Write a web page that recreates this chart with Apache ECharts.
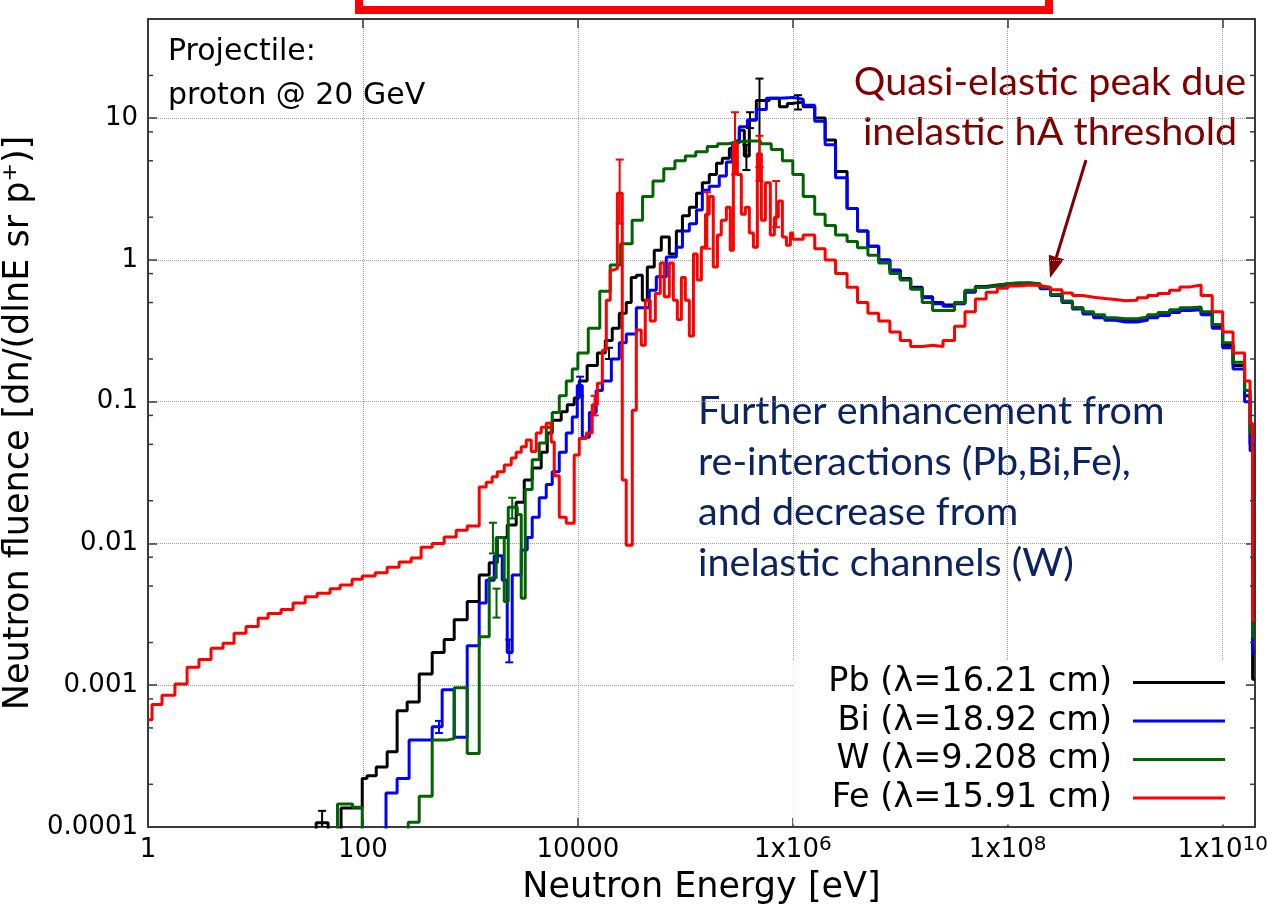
<!DOCTYPE html>
<html><head><meta charset="utf-8">
<script src="https://cdn.jsdelivr.net/npm/echarts@6/dist/echarts.min.js"></script>
<style>html,body{margin:0;padding:0;background:#fff}#c{width:1267px;height:916px}</style>
</head><body><div id="c"></div>
<script>
// ---------------- data ----------------
const xTickExps = [0, 2, 4, 6, 8, 10];
const xTickLabels = ['1', '100', '10000', '1x10^6', '1x10^8', '1x10^10'];
const yTickExps = [-4, -3, -2, -1, 0, 1];
const yTickLabels = ['0.0001', '0.001', '0.01', '0.1', '1', '10'];
const seriesNames = ['Pb (\u03bb=16.21 cm)', 'Bi (\u03bb=18.92 cm)', 'W (\u03bb=9.208 cm)', 'Fe (\u03bb=15.91 cm)'];
const seriesColors = ['#000000', '#0000ff', '#006400', '#ff0000'];

// shared high-energy bin edges (left edges, last entry = upper edge)
const eHigh = [1e6,1.25e6,1.6e6,2e6,2.5e6,3.2e6,4e6,5e6,6.3e6,8e6,
  1e7,1.25e7,1.6e7,2e7,2.5e7,3.2e7,4e7,5e7,6.3e7,8e7,
  1e8,1.25e8,1.6e8,2e8,2.5e8,3.2e8,4e8,5e8,6.3e8,8e8,
  1e9,1.25e9,1.6e9,2e9,2.5e9,3.2e9,4e9,5e9,6.3e9,8e9,
  1e10,1.25e10,1.6e10,1.8e10,1.9e10,2e10];

// Pb
const ePbLow = [36.7,47.4,62.6,98.5,109,133,168,208,258,334,441,570,707,934,1208,1497,1778,2202,2668,3170,
  3760,4560,5190,5776,7000,7960,9250,1.03e4,1.22e4,1.52e4,1.8e4,2.09e4,2.43e4,2.82e4,3.14e4,3.5e4,3.98e4,4.43e4,5.14e4,5.98e4,
  7.1e4,8.25e4,9.4e4,1.09e5,1.27e5,1.44e5,1.67e5,1.95e5,2.21e5,2.57e5,2.99e5,3.18e5,3.54e5,3.94e5,4.58e5,5.21e5,6.05e5,7.5e5,8.9e5];
const vPbLow = [1.07e-4,5e-5,1.36e-4,2.2e-4,2.3e-4,2.65e-4,3.4e-4,6.6e-4,7.6e-4,1.2e-3,1.7e-3,2.1e-3,2.9e-3,3.9e-3,6.0e-3,7.3e-3,0.011,0.0135,0.0195,0.028,
  0.034,0.044,0.060,0.074,0.085,0.095,0.106,0.14,0.18,0.22,0.27,0.33,0.42,0.5,0.75,0.78,0.52,0.89,1.17,1.45,
  1.1,1.6,2.05,2.35,2.95,3.5,4.0,4.8,5.2,6.1,6.9,8.2,5.4,9.7,13.3,13.3,13.8,12,12.7];
const vPbHigh = [13.0,12.0,10.0,7.0,4.2,2.3,1.6,1.25,1.0,0.85,
  0.74,0.64,0.55,0.5,0.48,0.5,0.6,0.65,0.665,0.675,
  0.68,0.685,0.675,0.635,0.57,0.51,0.46,0.425,0.4,0.385,
  0.375,0.375,0.385,0.4,0.415,0.435,0.45,0.455,0.42,0.34,
  0.25,0.18,0.11,0.05,0.0011];

// Bi
const eBiLow = [164,208,269,441,546,707,934,1208,1403,1667,1978,2202,2449,2973,3380,3760,4372,5080,5776,6714,
  7800,8870,9870,1.1e4,1.28e4,1.48e4,1.69e4,2.05e4,2.43e4,2.82e4,3.5e4,4.62e4,5.37e4,6.65e4,8.25e4,9.4e4,1.09e5,1.27e5,1.44e5,1.67e5,
  2.07e5,2.41e5,2.74e5,3.18e5,3.78e5,4.58e5,5.68e5,7.5e5];
const vBiLow = [1.74e-4,2.2e-4,4.1e-4,5.1e-4,9.3e-4,4.3e-4,1.9e-3,3.8e-3,5.5e-3,8.2e-3,5.5e-3,1.7e-3,6.0e-3,9.0e-3,0.011,0.0153,0.021,0.026,0.032,0.044,
  0.060,0.078,0.13,0.056,0.084,0.12,0.14,0.2,0.26,0.3,0.46,0.61,0.76,1.05,1.23,1.6,1.8,2.25,3.1,3.3,
  3.9,4.9,6.7,8.7,9.7,11.5,13.8,14];
const vBiHigh = [13.6,12.3,9.5,6.5,3.8,2.3,1.6,1.25,1.0,0.84,
  0.73,0.63,0.54,0.49,0.47,0.49,0.59,0.64,0.655,0.665,
  0.67,0.675,0.665,0.625,0.56,0.5,0.45,0.415,0.39,0.375,
  0.365,0.365,0.375,0.39,0.405,0.425,0.44,0.445,0.41,0.33,
  0.24,0.17,0.1,0.045,0.0017];

// W
const eWLow = [58,80,98.5,264,334,441,595,707,934,1208,1497,1738,2065,2250,2730,2973,3238,3760,4372,5080,
  5776,6714,7800,8870,1e4,1.25e4,1.6e4,2e4,2.5e4,3.2e4,4e4,5e4,6.3e4,8e4,1e5,1.25e5,1.6e5,2e5,2.5e5,3.2e5,4e5,5e5,6.3e5,8e5];
const vWLow = [1.45e-4,1.38e-4,5e-5,1.08e-4,1.65e-4,4.1e-4,4.2e-4,9.6e-4,3.3e-4,2.2e-3,5.7e-3,0.011,3.9e-3,0.018,0.016,4.1e-3,0.024,0.039,0.051,0.066,
  0.084,0.11,0.14,0.17,0.22,0.33,0.6,0.92,1.3,1.9,2.8,3.6,4.4,5.0,5.4,5.8,6.3,6.6,6.8,6.9,6.9,6.6,6.0,5.0];
const vWHigh = [4.0,2.8,2.1,1.75,1.5,1.35,1.22,1.08,0.95,0.8,
  0.72,0.62,0.5,0.44,0.44,0.5,0.61,0.64,0.66,0.68,
  0.69,0.69,0.68,0.64,0.57,0.51,0.46,0.43,0.41,0.39,
  0.385,0.385,0.395,0.41,0.425,0.445,0.46,0.465,0.43,0.35,
  0.26,0.19,0.12,0.06,0.0022];

// Fe
const eFeLow = [1,1.09,1.35,1.78,2.31,2.98,3.86,4.99,6.32,8.17,10.6,13.1,17.3,22.4,29,37.5,49.5,61.4,79.3,98.5,
  130,168,217,281,348,441,570,738,934,1208,1403,1596,1778,2065,2399,2668,2973,3311,3682,4100,
  4560,5080,5650,6030,6714,7800,9250,1.03e4,1.2e4,1.36e4,1.52e4,1.69e4,1.84e4,2.0e4,2.18e4,2.33e4,2.59e4,2.82e4,3.21e4,3.5e4,
  3.89e4,4.24e4,4.72e4,5.26e4,5.85e4,6.37e4,7.1e4,7.73e4,8.43e4,9.19e4,1e5,1.09e5,1.19e5,1.29e5,1.41e5,1.54e5,1.67e5,1.82e5,1.99e5,2.16e5,
  2.41e5,2.62e5,2.8e5,3.05e5,3.32e5,3.62e5,3.94e5,4.3e5,4.68e5,5.1e5,5.56e5,6.18e5,6.74e5,7.34e5,8.0e5,8.72e5,9.5e5];
const vFeLow = [5.7e-4,7.3e-4,8.5e-4,1.02e-3,1.34e-3,1.52e-3,1.82e-3,1.98e-3,2.33e-3,2.6e-3,2.97e-3,3.2e-3,3.42e-3,3.8e-3,4.2e-3,4.45e-3,4.8e-3,5.1e-3,5.6e-3,5.9e-3,
  6.2e-3,6.8e-3,7.4e-3,7.9e-3,9.4e-3,0.0100,0.0111,0.0124,0.0133,0.025,0.027,0.0295,0.032,0.0357,0.040,0.044,0.048,0.0536,0.0445,0.060,
  0.066,0.0705,0.052,0.030,0.0153,0.0139,0.042,0.055,0.060,0.095,0.135,0.23,0.52,0.85,0.87,2.95,0.028,0.0097,0.087,0.32,
  0.25,0.52,0.37,0.58,0.95,0.55,0.95,0.52,0.38,0.75,0.52,0.29,1.1,0.72,1.23,2.1,2.8,0.89,1.5,1.9,
  2.35,1.17,6.6,4.0,2.1,2.35,1.55,1.23,5.6,1.9,3.5,1.5,2.0,2.6,1.45,1.27,1.55];
const vFeHigh = [1.4,1.5,1.2,1.0,0.8,0.64,0.5,0.42,0.37,0.31,
  0.27,0.245,0.25,0.245,0.27,0.34,0.43,0.53,0.59,0.63,
  0.655,0.665,0.66,0.64,0.615,0.585,0.56,0.545,0.535,0.525,
  0.515,0.52,0.54,0.56,0.58,0.61,0.645,0.665,0.56,0.43,
  0.31,0.22,0.14,0.07,0.0029];

// error bars: [energy, low, high]
const errPb = [[41.7,1.0e-4,1.3e-4],[3.7e5,4.3,6.5],[4.9e5,4.5,19],[1.12e6,11.5,14.5],[1.95e4,0.2,0.24],[4.0e5,8.5,11]];
const errBi = [[2300,1.45e-3,2.1e-3],[510,4.6e-4,5.6e-4],[1.05e4,0.11,0.15]];
const errW  = [[1620,8.5e-3,0.014],[2450,0.015,0.021],[1750,3.0e-3,4.8e-3]];
const errFe = [[2.45e4,1.8,5.1],[2.9e5,4.0,11],[4.9e5,3.6,7.5],[1.6e5,1.2,3.0],[7.0e5,1.7,3.6],[1.43e4,0.08,0.11]];

// axis minor tick positions (y axis: 2, 5, 8 per decade)
const yMinorTickValues = [2e-4,5e-4,8e-4,2e-3,5e-3,8e-3,0.02,0.05,0.08,0.2,0.5,0.8,2,5,8,20];

// ---------------- chart ----------------
const X_MIN = 1, X_MAX = 2e10, Y_MIN = 1e-4, Y_MAX = 50;
const BELOW = 1e-7; // off-scale floor used to open the histogram outline from the axis
function hist(edges, vals) {
  const pts = [];
  if (edges[0] > X_MIN) pts.push([edges[0], BELOW]);
  for (let i = 0; i < vals.length; i++) pts.push([edges[i], vals[i]]);
  pts.push([edges[vals.length], vals[vals.length - 1]]);
  return pts;
}
const histData = [
  hist(ePbLow.concat(eHigh), vPbLow.concat(vPbHigh)),
  hist(eBiLow.concat(eHigh), vBiLow.concat(vBiHigh)),
  hist(eWLow.concat(eHigh), vWLow.concat(vWHigh)),
  hist(eFeLow.concat(eHigh), vFeLow.concat(vFeHigh))
];
const errData = [errPb, errBi, errW, errFe];

const FONT = 'DejaVu Sans';
const AX = '#3a3a3a';
const chart = echarts.init(document.getElementById('c'), null, {renderer: 'canvas'});

function xLabel(v) {
  const k = Math.log10(v), r = Math.round(k);
  if (Math.abs(k - r) > 1e-6) return '';
  const i = xTickExps.indexOf(r);
  if (i < 0) return '';
  const m = xTickLabels[i].match(/^(.*)\^(\d+)$/);
  return m ? '{b|' + m[1] + '}{s|' + m[2] + '}' : '{b|' + xTickLabels[i] + '}';
}
function yLabel(v) {
  const k = Math.log10(v), r = Math.round(k);
  if (Math.abs(k - r) > 1e-6) return '';
  const i = yTickExps.indexOf(r);
  return i < 0 ? '' : yTickLabels[i];
}

const xBase = {type: 'log', min: X_MIN, max: X_MAX, gridIndex: 0};
const yBase = {type: 'log', min: Y_MIN, max: Y_MAX, gridIndex: 0};

const series = [];
for (let s = 0; s < 4; s++) {
  series.push({
    name: seriesNames[s], type: 'line', step: 'end', data: histData[s],
    showSymbol: false, symbol: 'none', clip: true, z: 2 + s * 0.1,
    lineStyle: {color: seriesColors[s], width: 3}, itemStyle: {color: seriesColors[s]},
    emphasis: {disabled: true}, silent: true
  });
}
for (let s = 0; s < 4; s++) {
  const col = seriesColors[s];
  series.push({
    name: 'err' + s, type: 'custom', data: errData[s], clip: true, silent: true, z: 2 + s * 0.1,
    encode: {x: 0, y: [1, 2]},
    renderItem: function (params, api) {
      const x = api.value(0), lo = api.value(1), hi = api.value(2);
      const p1 = api.coord([x, lo]), p2 = api.coord([x, hi]);
      const w = 4, st = {stroke: col, lineWidth: 2};
      return {type: 'group', children: [
        {type: 'line', shape: {x1: p1[0], y1: p1[1], x2: p2[0], y2: p2[1]}, style: st},
        {type: 'line', shape: {x1: p1[0] - w, y1: p1[1], x2: p1[0] + w, y2: p1[1]}, style: st},
        {type: 'line', shape: {x1: p2[0] - w, y1: p2[1], x2: p2[0] + w, y2: p2[1]}, style: st}
      ]};
    }
  });
}
series.push({
  name: 'yminor', type: 'custom', silent: true, clip: false, z: 5,
  data: yMinorTickValues.map(v => [1, v]),
  encode: {x: 0, y: 1},
  renderItem: function (params, api) {
    const y = api.coord([1, api.value(1)])[1];
    const cs = params.coordSys;
    const st = {stroke: AX, lineWidth: 1.5};
    return {type: 'group', children: [
      {type: 'line', shape: {x1: cs.x, y1: y, x2: cs.x + 5, y2: y}, style: st},
      {type: 'line', shape: {x1: cs.x + cs.width - 5, y1: y, x2: cs.x + cs.width, y2: y}, style: st}
    ]};
  }
});

const option = {
  animation: false,
  backgroundColor: '#ffffff',
  textStyle: {fontFamily: FONT},
  grid: {left: 148, right: 12, top: 19, bottom: 89, containLabel: false, outerBoundsMode: 'none'},
  xAxis: [
    Object.assign({}, xBase, {
      position: 'bottom', logBase: 100,
      name: 'Neutron Energy [eV]', nameLocation: 'middle', nameGap: 43,
      nameTextStyle: {fontSize: 35, color: '#000', fontFamily: FONT},
      axisLine: {show: true, lineStyle: {color: AX, width: 2}},
      axisTick: {show: true, inside: true, length: 9, lineStyle: {color: AX, width: 1.5}},
      axisLabel: {show: true, margin: 8, formatter: xLabel, color: '#000', fontSize: 26, fontFamily: FONT,
        rich: {b: {fontSize: 26, fontFamily: FONT, color: '#000', lineHeight: 31},
               s: {fontSize: 20, fontFamily: FONT, color: '#000', lineHeight: 19, verticalAlign: 'top'}}},
      splitLine: {show: true, lineStyle: {color: '#9a9a9a', type: 'dotted', width: 1}}
    }),
    Object.assign({}, xBase, {
      position: 'bottom', logBase: 10, splitNumber: 11,
      axisLine: {show: false}, axisLabel: {show: false}, splitLine: {show: false},
      axisTick: {show: true, inside: true, length: 5, lineStyle: {color: AX, width: 1.5}}
    }),
    Object.assign({}, xBase, {
      position: 'top', logBase: 100,
      axisLine: {show: true, lineStyle: {color: AX, width: 2}}, axisLabel: {show: false}, splitLine: {show: false},
      axisTick: {show: true, inside: true, length: 9, lineStyle: {color: AX, width: 1.5}}
    }),
    Object.assign({}, xBase, {
      position: 'top', logBase: 10, splitNumber: 11,
      axisLine: {show: false}, axisLabel: {show: false}, splitLine: {show: false},
      axisTick: {show: true, inside: true, length: 5, lineStyle: {color: AX, width: 1.5}}
    })
  ],
  yAxis: [
    Object.assign({}, yBase, {
      position: 'left', splitNumber: 6,
      name: 'Neutron fluence [dn/(dlnE sr p\u207a)]', nameLocation: 'middle', nameGap: 100,
      nameTextStyle: {fontSize: 35, color: '#000', fontFamily: FONT},
      axisLine: {show: true, lineStyle: {color: AX, width: 2}},
      axisTick: {show: true, inside: true, length: 9, lineStyle: {color: AX, width: 1.5}},
      axisLabel: {show: true, margin: 10, formatter: yLabel, color: '#000', fontSize: 26, fontFamily: FONT},
      splitLine: {show: true, lineStyle: {color: '#9a9a9a', type: 'dotted', width: 1}}
    }),
    Object.assign({}, yBase, {
      position: 'right', splitNumber: 6,
      axisLine: {show: true, lineStyle: {color: AX, width: 2}}, axisLabel: {show: false}, splitLine: {show: false},
      axisTick: {show: true, inside: true, length: 9, lineStyle: {color: AX, width: 1.5}}
    })
  ],
  legend: {
    data: seriesNames, orient: 'vertical', right: 22, top: 660, align: 'right',
    icon: 'rect', itemWidth: 92, itemHeight: 3, itemGap: 1.5,
    backgroundColor: '#ffffff', padding: [4, 20, 8, 35], selectedMode: false,
    textStyle: {fontSize: 33.5, fontFamily: FONT, color: '#000', lineHeight: 37, padding: [0, 16, 0, 0]}
  },
  graphic: [
    {type: 'rect', shape: {x: 359, y: -60, width: 690, height: 70}, style: {fill: 'none', stroke: '#ff0000', lineWidth: 8}, silent: true},
    {type: 'text', x: 168, y: 52, style: {text: 'Projectile:', font: '30px "DejaVu Sans"', fill: '#000', verticalAlign: 'middle'}, silent: true},
    {type: 'text', x: 168, y: 96, style: {text: 'proton @ 20 GeV', font: '30px "DejaVu Sans"', fill: '#000', verticalAlign: 'middle'}, silent: true},
    {type: 'text', x: 1050, y: 82, style: {text: 'Quasi-elastic peak due', font: '39.5px Lato', fill: '#800000', align: 'center', verticalAlign: 'middle'}, silent: true},
    {type: 'text', x: 1050, y: 132, style: {text: 'inelastic hA threshold', font: '39.5px Lato', fill: '#800000', align: 'center', verticalAlign: 'middle'}, silent: true},
    {type: 'line', shape: {x1: 1086, y1: 160, x2: 1056.4, y2: 257}, style: {stroke: '#800000', lineWidth: 3}, silent: true},
    {type: 'polygon', shape: {points: [[1050, 278], [1064.1, 259.3], [1048.8, 254.7]]}, style: {fill: '#800000'}, silent: true},
    {type: 'text', x: 698, y: 411, style: {text: 'Further enhancement from', font: '39.5px Lato', fill: '#0b2461', verticalAlign: 'middle'}, silent: true},
    {type: 'text', x: 698, y: 462, style: {text: 're-interactions (Pb,Bi,Fe),', font: '39.5px Lato', fill: '#0b2461', verticalAlign: 'middle'}, silent: true},
    {type: 'text', x: 698, y: 512, style: {text: 'and decrease from', font: '39.5px Lato', fill: '#0b2461', verticalAlign: 'middle'}, silent: true},
    {type: 'text', x: 698, y: 563, style: {text: 'inelastic channels (W)', font: '39.5px Lato', fill: '#0b2461', verticalAlign: 'middle'}, silent: true}
  ],
  series: series
};
chart.setOption(option);
</script>
</body></html>
